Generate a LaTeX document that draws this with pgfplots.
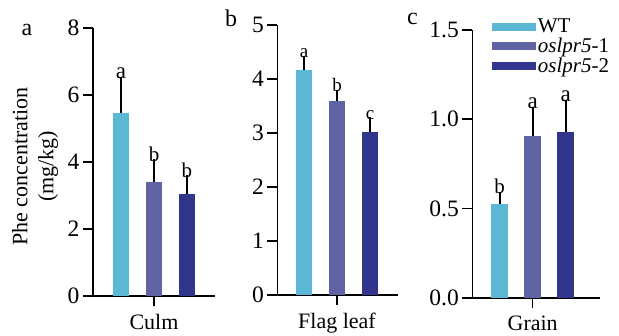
\documentclass[border=0pt]{standalone}
\usepackage{pgfplots}
\pgfplotsset{compat=1.18}
\usepackage{fontspec}
\setmainfont{Liberation Serif}
\definecolor{cWT}{HTML}{5BB7D3}
\definecolor{cLa}{HTML}{6063A3}
\definecolor{cLb}{HTML}{31368C}
\pgfplotsset{
  panel/.style={
    scale only axis,
    anchor=south west,
    axis x line*=bottom, axis y line*=left,
    axis line style={line width=1.6bp, -},
    every tick/.style={line width=1.6bp, black},
    tick align=outside,
    major tick length=10bp,
    xtick={0},
    ymin=0,
    yticklabel style={font=\fontsize{23.5bp}{28bp}\selectfont},
    xticklabel style={font=\fontsize{22bp}{26bp}\selectfont, yshift=-5bp},
    label style={font=\fontsize{22bp}{26bp}\selectfont},
    /pgf/number format/assume math mode=true,
    clip=false,
  },
  bars/.style={ybar, bar shift=0pt, bar width=16.5bp, fill=#1, draw=none,
    legend image code/.code={\fill (0bp,-4bp) rectangle (44bp,4bp);}},
  eb/.style={error bars/.cd, y dir=plus, y explicit,
    error bar style={line width=2bp, black},
    error mark options={line width=2bp, black, mark size=5bp}},
}
\tikzset{ann/.style={font=\fontsize{#1bp}{#1bp}\selectfont, anchor=base, yshift=3bp}}
\begin{document}
\begin{tikzpicture}
\useasboundingbox (0,0) rectangle (619bp,336bp);
% panel letters
\node[font=\fontsize{24bp}{28bp}\selectfont, anchor=base] at (27bp,300bp) {a};
\node[font=\fontsize{24bp}{28bp}\selectfont, anchor=base] at (231bp,309bp) {b};
\node[font=\fontsize{24bp}{28bp}\selectfont, anchor=base] at (412.5bp,311bp) {c};
% ---- panel a
\begin{axis}[panel, at={(93bp,40bp)}, width=122bp, height=268bp,
  xmin=-1.85, xmax=1.85, ymax=8, ytick={0,2,4,6,8},
  xticklabels={Culm},
  ylabel={Phe concentration\\(mg/kg)},
  ylabel style={at={(axis description cs:-0.475,0.483)}, anchor=center, align=center}]
\addplot[bars=cWT, eb] coordinates {(-1,5.45) +- (0,0.95)};
\addplot[bars=cLa, eb] coordinates {(0,3.41) +- (0,0.53)};
\addplot[bars=cLb, eb] coordinates {(1,3.04) +- (0,0.42)};
\node[ann=23] at (axis cs:-1,6.4) {a};
\node[ann=21] at (axis cs:0,3.94) {b};
\node[ann=21] at (axis cs:1,3.46) {b};
\end{axis}
% ---- panel b
\begin{axis}[panel, at={(277.3bp,41.3bp)}, width=120.4bp, height=269.7bp,
  xmin=-1.81, xmax=1.84, ymax=5, ytick={0,1,2,3,4,5},
  xticklabels={Flag leaf}]
\addplot[bars=cWT, eb] coordinates {(-1,4.16) +- (0,0.18)};
\addplot[bars=cLa, eb] coordinates {(0,3.60) +- (0,0.11)};
\addplot[bars=cLb, eb] coordinates {(1,3.01) +- (0,0.19)};
\node[ann=19] at (axis cs:-1,4.34) {a};
\node[ann=19] at (axis cs:0,3.71) {b};
\node[ann=19] at (axis cs:1,3.20) {c};
\end{axis}
% ---- panel c
\begin{axis}[panel, at={(472.3bp,38.3bp)}, width=127.7bp, height=267.7bp,
  xmin=-1.83, xmax=2.04, ymax=1.5, ytick={0,0.5,1,1.5},
  yticklabel style={/pgf/number format/.cd, fixed, fixed zerofill, precision=1},
  xticklabels={Grain},
  legend style={at={(axis description cs:0.152,0.938)}, anchor=west,
    draw=none, fill=none, inner sep=0pt, row sep=0pt,
    font=\fontsize{21bp}{25bp}\selectfont},
  legend cell align=left]
\addplot[bars=cWT, eb] coordinates {(-1,0.527) +- (0,0.039)};
\addlegendentry{WT}
\addplot[bars=cLa, eb] coordinates {(0,0.906) +- (0,0.137)};
\addlegendentry{\textit{oslpr5}-1}
\addplot[bars=cLb, eb] coordinates {(1,0.93) +- (0,0.152)};
\addlegendentry{\textit{oslpr5}-2}
\node[ann=21] at (axis cs:-1,0.566) {b};
\node[ann=23] at (axis cs:0,1.043) {a};
\node[ann=23] at (axis cs:1,1.082) {a};
\end{axis}
\end{tikzpicture}
\end{document}
